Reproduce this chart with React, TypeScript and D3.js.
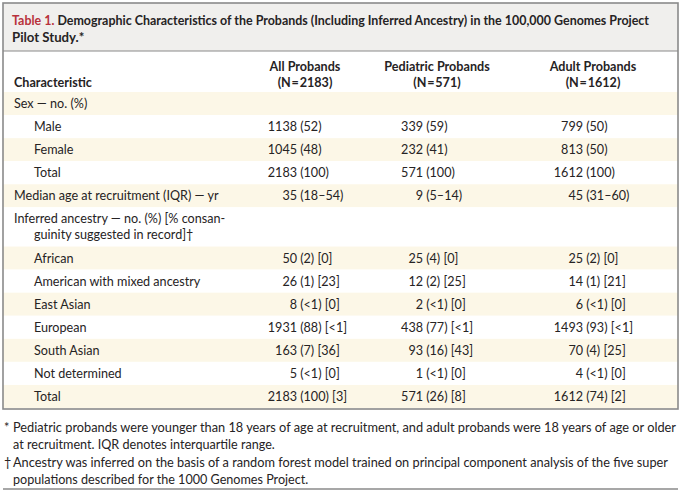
import React from "react";
import * as d3 from "d3";

// ---------- data ----------
const titleLabel = "Table 1.";
const titleLine1 =
  "Demographic Characteristics of the Probands (Including Inferred Ancestry) in the 100,000 Genomes Project";
const titleLine2 = "Pilot Study.*";

const stubHead = "Characteristic";
const columnHeads = ["All Probands", "Pediatric Probands", "Adult Probands"];
const columnNs = ["(N\u200A=\u200A2183)", "(N\u200A=\u200A571)", "(N\u200A=\u200A1612)"];

const rowLabels = [
  "Sex — no. (%)",
  "Male",
  "Female",
  "Total",
  "Median age at recruitment (IQR) — yr",
  "Inferred ancestry — no. (%) [% consan-\nguinity suggested in record]†",
  "African",
  "American with mixed ancestry",
  "East Asian",
  "European",
  "South Asian",
  "Not determined",
  "Total",
];
const rowLevels = [0, 1, 1, 1, 0, 0, 1, 1, 1, 1, 1, 1, 1];

const allProbands = [
  "", "1138 (52)", "1045 (48)", "2183 (100)", "35 (18–54)", "",
  "50 (2) [0]", "26 (1) [23]", "8 (<1) [0]", "1931 (88) [<1]", "163 (7) [36]", "5 (<1) [0]", "2183 (100) [3]",
];
const pediatricProbands = [
  "", "339 (59)", "232 (41)", "571 (100)", "9 (5–14)", "",
  "25 (4) [0]", "12 (2) [25]", "2 (<1) [0]", "438 (77) [<1]", "93 (16) [43]", "1 (<1) [0]", "571 (26) [8]",
];
const adultProbands = [
  "", "799 (50)", "813 (50)", "1612 (100)", "45 (31–60)", "",
  "25 (2) [0]", "14 (1) [21]", "6 (<1) [0]", "1493 (93) [<1]", "70 (4) [25]", "4 (<1) [0]", "1612 (74) [2]",
];

const footnoteMarks = ["*", "†"];
const footnotes = [
  [
    "Pediatric probands were younger than 18 years of age at recruitment, and adult probands were 18 years of age or older",
    "at recruitment. IQR denotes interquartile range.",
  ],
  [
    "Ancestry was inferred on the basis of a random forest model trained on principal component analysis of the five super",
    "populations described for the 1000 Genomes Project.",
  ],
];

// ---------- layout ----------
const W = 687;
const H = 495;
const FONT = "Lato, 'Open Sans', sans-serif";
const TEXT = "#262324";
const RED = "#b8313b";
const CREAM = "#fcf7e7";
const GREY_BAND = "#f0efed";
const BORDER = "#8a8a8a";

const boxLeft = 3;
const boxRight = 678;
const boxTop = 3;
const titleBottom = 51;
const rowsTop = 92;
const rowsBottom = 408;

const columns = [allProbands, pediatricProbands, adultProbands];
const numAnchor = d3.scaleOrdinal<number, number>().domain([0, 1, 2]).range([297, 423, 583]);
const headCenter = d3.scaleOrdinal<number, number>().domain([0, 1, 2]).range([305, 437, 593]);
const indentX = d3.scaleOrdinal<number, number>().domain([0, 1]).range([14, 34]);

const units = rowLabels.map((l) => (l.includes("\n") ? 1.7 : 1));
const cum = [0];
units.forEach((u, i) => cum.push(cum[i] + u));
const y = d3.scaleLinear().domain([0, cum[cum.length - 1]]).range([rowsTop, rowsBottom]);

export default function App() {
  const fs = 12.6;
  return (
    <svg
      width={W}
      height={H}
      viewBox={`0 0 ${W} ${H}`}
      style={{ position: "absolute", left: 0, top: 0, background: "#fff" }}
      fontFamily={FONT}
    >
      <rect x={0} y={0} width={W} height={H} fill="#fff" />
      {/* title band */}
      <rect x={boxLeft} y={boxTop} width={boxRight - boxLeft} height={titleBottom - boxTop} fill={GREY_BAND} />
      <text x={12} y={25} fontSize={13.2} fontWeight={700} fill={TEXT} textLength={637} lengthAdjust="spacingAndGlyphs">
        <tspan fill={RED}>{titleLabel}</tspan> {titleLine1}
      </text>
      <text x={12} y={42} fontSize={13.2} fontWeight={700} fill={TEXT}>
        {titleLine2}
      </text>
      <line x1={boxLeft} x2={boxRight} y1={titleBottom} y2={titleBottom} stroke={BORDER} strokeWidth={1.2} />

      {/* header */}
      <text x={14} y={87} fontSize={fs} fontWeight={700} fill={TEXT}>
        {stubHead}
      </text>
      {columnHeads.map((h, i) => (
        <g key={h}>
          <text x={headCenter(i)} y={71} fontSize={fs} fontWeight={700} fill={TEXT} textAnchor="middle">
            {h}
          </text>
          <text x={headCenter(i)} y={87} fontSize={fs} fontWeight={700} fill={TEXT} textAnchor="middle">
            {columnNs[i]}
          </text>
        </g>
      ))}

      {/* body rows */}
      {rowLabels.map((label, i) => {
        const top = y(cum[i]);
        const bottom = y(cum[i + 1]);
        const lines = label.split("\n");
        const base = top + 16;
        return (
          <g key={i}>
            <rect
              x={boxLeft}
              y={top}
              width={boxRight - boxLeft}
              height={bottom - top}
              fill={i % 2 === 0 ? CREAM : "#fff"}
            />
            {lines.map((ln, j) => (
              <text
                key={j}
                x={j === 0 ? indentX(rowLevels[i]) : indentX(1)}
                y={base + j * 16}
                fontSize={fs}
                fill={TEXT}
              >
                {ln}
              </text>
            ))}
            {columns.map((col, c) => {
              const v = col[i];
              if (!v) return null;
              const k = v.indexOf(" ");
              const num = v.slice(0, k);
              const rest = v.slice(k + 1);
              return (
                <g key={c}>
                  <text x={numAnchor(c)} y={base} fontSize={fs} fill={TEXT} textAnchor="end">
                    {num}
                  </text>
                  <text x={numAnchor(c) + 3.2} y={base} fontSize={fs} fill={TEXT}>
                    {rest}
                  </text>
                </g>
              );
            })}
          </g>
        );
      })}

      {/* outer box */}
      <rect
        x={boxLeft}
        y={boxTop}
        width={boxRight - boxLeft}
        height={rowsBottom + 1 - boxTop}
        fill="none"
        stroke={BORDER}
        strokeWidth={1.6}
      />

      {/* footnotes */}
      {footnotes.map((lines, f) => (
        <g key={f}>
          <text x={4} y={432 + f * 35} fontSize={fs} fill={TEXT}>
            {footnoteMarks[f]}
          </text>
          {lines.map((ln, j) => (
            <text
              key={j}
              x={13}
              y={432 + f * 35 + j * 16.5}
              fontSize={fs}
              fill={TEXT}
              {...(j === 0 ? { textLength: f === 0 ? 663 : 655, lengthAdjust: "spacingAndGlyphs" } : {})}
            >
              {ln}
            </text>
          ))}
        </g>
      ))}
      <line x1={boxLeft} x2={boxRight} y1={489} y2={489} stroke={BORDER} strokeWidth={1.6} />
    </svg>
  );
}
